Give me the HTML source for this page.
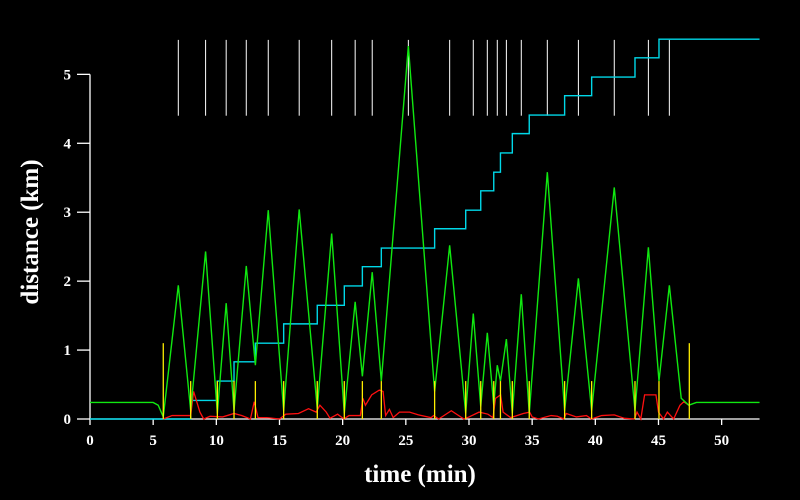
<!DOCTYPE html>
<html><head><meta charset="utf-8"><style>
html,body{margin:0;padding:0;background:#000;}
svg{display:block;}
text{font-family:"Liberation Serif",serif;font-weight:bold;fill:#fff;}
</style></head><body>
<svg id="chart" width="800" height="500" viewBox="0 0 800 500">
<g id="axes"></g>
<g id="marks"></g>
<text x="420" y="482" font-size="25" text-anchor="middle">time (min)</text>
<text x="0" y="0" font-size="25" text-anchor="middle" transform="translate(38,232) rotate(-90)">distance (km)</text>
</svg>
<script>
const xTicks=[0,5,10,15,20,25,30,35,40,45,50];
const yTicks=[0,1,2,3,4,5];
const peakTimes=[6.99,9.15,10.78,12.37,14.11,16.56,19.13,20.99,22.34,25.2,28.47,30.34,31.45,32.24,32.96,34.14,36.2,38.66,41.5,44.2,45.86];
const peakValues=[1.94,2.43,1.68,2.22,3.03,3.04,2.69,1.70,2.13,5.41,2.52,1.53,1.25,0.78,1.16,1.81,3.58,2.04,3.36,2.49,1.94];
const troughTimes=[5.8,7.97,10.08,11.4,13.09,15.33,17.99,20.13,21.56,23.06,27.28,29.74,30.93,31.96,32.49,33.43,34.77,37.57,39.71,43.14,45.04,47.44];
const troughValues=[0.03,0.12,0.08,0.12,0.78,0.12,0.15,0.08,0.62,0.55,0.4,0.08,0.18,0.2,0.55,0.08,0.08,0.12,0.12,0.12,0.55,0.2];
const markerHeights=[1.1,0.55,0.55,0.55,0.55,0.55,0.55,0.55,0.55,0.55,0.55,0.55,0.55,0.55,0.55,0.55,0.55,0.55,0.55,0.55,0.55,1.1];
const stepTimes=[0,7.97,10.08,11.4,13.09,15.33,17.99,20.13,21.56,23.06,27.28,29.74,30.93,31.96,32.49,33.43,34.77,37.57,39.71,43.14,45.04];
const stepValues=[0,0.27,0.55,0.83,1.10,1.38,1.65,1.93,2.21,2.48,2.76,3.03,3.31,3.58,3.86,4.14,4.41,4.69,4.96,5.24,5.51];
const redTimes=[5.8,6.5,7.5,7.97,8.2,8.7,9.0,9.5,10.5,11.4,12,12.7,13.0,13.3,14,15,15.5,16.5,17.3,17.9,18.2,18.7,19,19.6,20.1,20.5,21.4,21.6,21.8,22.3,22.9,23.2,23.4,23.7,24,24.5,25.3,26,27,27.2,27.6,28.6,29.6,30,30.8,31.5,31.9,32.1,32.5,32.7,33.3,34.3,34.8,35,35.5,36.5,37,37.5,37.7,38.5,39.3,39.7,40.5,41.5,42.3,43.1,43.3,43.6,43.9,44.8,45,45.4,45.7,46.2,46.7,47.0,47.4];
const redValues=[0,0.05,0.05,0.05,0.4,0.1,0,0.04,0.03,0.08,0.05,0,0.25,0.02,0.02,0,0.07,0.08,0.15,0.1,0.2,0.1,0.01,0.07,0,0.05,0.05,0.3,0.2,0.35,0.42,0.4,0.05,0.14,0.02,0.1,0.1,0.06,0.02,0.05,0,0.12,0,0.03,0.1,0.07,0.02,0.3,0.35,0.1,0.02,0.08,0.1,0.03,0,0.05,0.04,0,0.08,0.03,0.05,0,0.05,0.06,0.01,0,0.1,0,0.35,0.35,0.1,0,0.1,0,0.2,0.25,0.2];
const xMax=53, topMarkLow=4.4, topMarkHigh=5.5, flatLevel=0.24;

const X=t=>90+t*12.633;
const Y=v=>419-v*68.93;
const NS='http://www.w3.org/2000/svg';
const axes=document.getElementById('axes'), marks=document.getElementById('marks');
function mk(tag,attrs,parent){const e=document.createElementNS(NS,tag);for(const k in attrs)e.setAttribute(k,attrs[k]);parent.appendChild(e);return e;}

let l=mk('line',{x1:X(0),y1:Y(0),x2:X(xMax),y2:Y(0),stroke:'#fff','stroke-width':1.3},axes);


l=mk('line',{x1:X(0),y1:Y(0),x2:X(0),y2:Y(5),stroke:'#fff','stroke-width':1.3},axes);


xTicks.forEach(t=>{
  const tk=mk('line',{x1:X(t),y1:Y(0),x2:X(t),y2:Y(0)+6,stroke:'#fff','stroke-width':1.3},axes);
  
  
  const tx=mk('text',{x:X(t),y:445,'font-size':15,'text-anchor':'middle'},axes);tx.textContent=t;
  
  
});
yTicks.forEach(v=>{
  const tk=mk('line',{x1:X(0)-13,y1:Y(v),x2:X(0),y2:Y(v),stroke:'#fff','stroke-width':1.3},axes);
  
  
  const tx=mk('text',{x:71,y:Y(v)+5,'font-size':15,'text-anchor':'end'},axes);tx.textContent=v;
  
  
});

peakTimes.forEach(t=>{
  const m=mk('line',{x1:X(t),y1:Y(topMarkHigh),x2:X(t),y2:Y(topMarkLow),stroke:'#fff','stroke-width':1},marks);
  
  
});
let d='M'+X(stepTimes[0])+','+Y(stepValues[0]);
for(let i=1;i<stepTimes.length;i++){d+=' H'+X(stepTimes[i])+' V'+Y(stepValues[i]);}
d+=' H'+X(xMax);
let p=mk('path',{d:d,fill:'none',stroke:'#00d8e8','stroke-width':1.4},marks);


d='';redTimes.forEach((t,i)=>{d+=(i?'L':'M')+X(t)+','+Y(redValues[i]);});
p=mk('path',{d:d,fill:'none',stroke:'#ff1010','stroke-width':1.3},marks);


const pts=[[0,flatLevel],[5,flatLevel],[5.4,0.2]];
pts.push([troughTimes[0],troughValues[0]]);
for(let i=0;i<peakTimes.length;i++){pts.push([peakTimes[i],peakValues[i]]);pts.push([troughTimes[i+1],troughValues[i+1]]);}
pts.pop();
pts.push([46.8,0.3],[47.4,0.2],[48,flatLevel],[xMax,flatLevel]);
d='';pts.forEach((q,i)=>{d+=(i?'L':'M')+X(q[0])+','+Y(q[1]);});
p=mk('path',{d:d,fill:'none',stroke:'#10e810','stroke-width':1.4},marks);


troughTimes.forEach((t,i)=>{
  const m=mk('line',{x1:X(t),y1:Y(0),x2:X(t),y2:Y(markerHeights[i]),stroke:'#ffee00','stroke-width':1.3},marks);
  
  
});
</script>
</body></html>
